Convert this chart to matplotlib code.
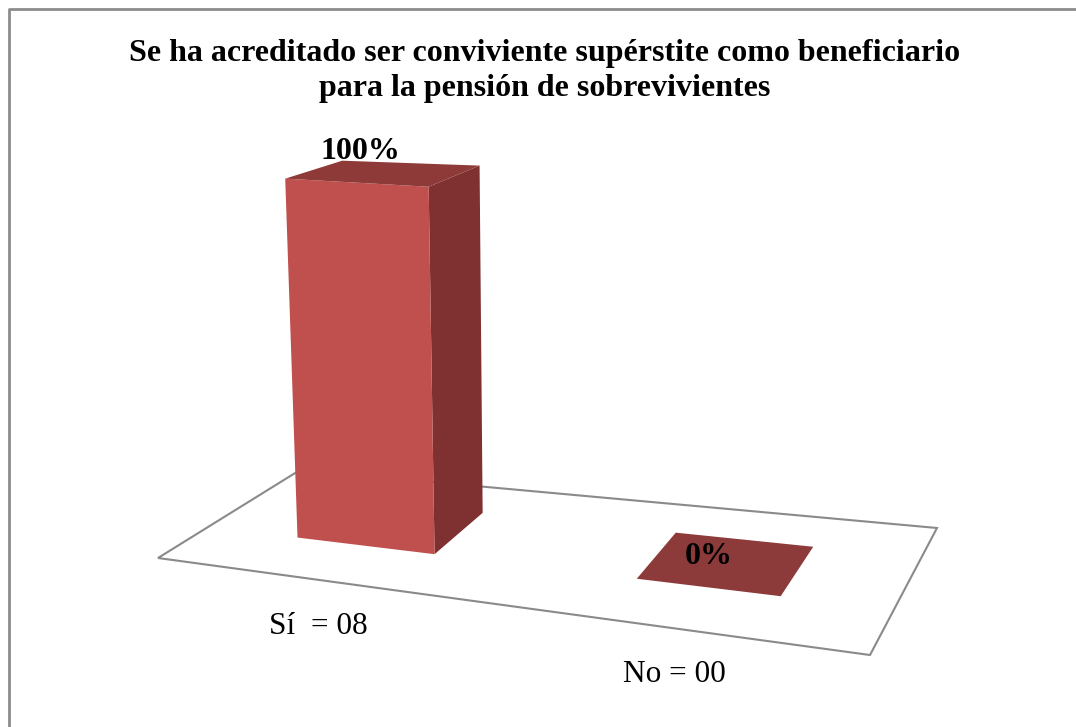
import numpy as np
import matplotlib.pyplot as plt
from matplotlib.patches import Polygon

categorias = ['Sí  = 08', 'No = 00']
porcentajes = [100, 0]
etiquetas = ['100%', '0%']
titulo = 'Se ha acreditado ser conviviente supérstite como beneficiario\npara la pensión de sobrevivientes'

plt.rcParams['font.family'] = ['Liberation Serif', 'DejaVu Serif']

# esquinas del piso en pixeles (frente-izq, frente-der, fondo-izq, fondo-der)
P00 = np.array([158, 558])
P10 = np.array([870, 655])
P01 = np.array([300, 470])
P11 = np.array([937, 528])
# vector vertical (altura 100%) aproximado: a + b*u + c*v
up_a = np.array([-18.9, -370.9])
up_b = np.array([31.9, -42.6])
up_c = np.array([6.93, 49.3])


def proj(u, v, z):
    piso = (1-u)*(1-v)*P00 + u*(1-v)*P10 + (1-u)*v*P01 + u*v*P11
    arriba = up_a + up_b*u + up_c*v
    return piso + z*arriba


fig = plt.figure(figsize=(10.76, 7.27), dpi=100)
ax = fig.add_axes([0, 0, 1, 1])
ax.set_xlim(0, 1076)
ax.set_ylim(727, 0)
ax.axis('off')

# borde del area del grafico
ax.plot([9, 9, 1076], [727, 9, 9], color='#8c8c8c', lw=2)

# piso
piso = [proj(0, 0, 0), proj(1, 0, 0), proj(1, 1, 0), proj(0, 1, 0)]
ax.add_patch(Polygon(piso, closed=True, facecolor='white', edgecolor='#8a8a8a', lw=1.5))

n = len(categorias)
ancho = 0.2
v0, v1 = 0.355, 0.765
for i, (cat, val, et) in enumerate(zip(categorias, porcentajes, etiquetas)):
    uc = (i + 0.5) / n
    u0, u1 = uc - ancho/2 - 0.02, uc + ancho/2 - 0.02
    if i == 1:
        u0, u1 = uc - ancho/2 - 0.025, uc + ancho/2 - 0.025 + 0.01
    z = val / 100
    if z > 0:
        frente = [proj(u0, v0, 0), proj(u1, v0, 0), proj(u1, v0, z), proj(u0, v0, z)]
        lado = [proj(u1, v0, 0), proj(u1, v1, 0), proj(u1, v1, z), proj(u1, v0, z)]
        tapa = [proj(u0, v0, z), proj(u1, v0, z), proj(u1, v1, z), proj(u0, v1, z)]
        ax.add_patch(Polygon(lado, closed=True, facecolor='#7f3030', edgecolor='none'))
        ax.add_patch(Polygon(frente, closed=True, facecolor='#c0504d', edgecolor='none'))
        ax.add_patch(Polygon(tapa, closed=True, facecolor='#8e3a38', edgecolor='none'))
    else:
        tapa = [proj(u0, v0, 0), proj(u1, v0, 0), proj(u1, v1, 0), proj(u0, v1, 0)]
        ax.add_patch(Polygon(tapa, closed=True, facecolor='#8c3a3a', edgecolor='none'))
    # etiqueta de datos
    top = proj((u0 + u1) / 2, v0, z)
    ax.text(top[0] + 3 * z, top[1] - 31, et, ha='center', va='center',
            fontsize=23, fontweight='bold', color='black')
    # etiqueta de categoria
    base = proj(uc, 0, 0)
    ax.text(base[0] - 18, base[1] + 44, cat, ha='center', va='center', fontsize=22.5, color='black')

ax.text(545, 71, titulo, ha='center', va='center', fontsize=23, fontweight='bold',
        linespacing=1.25)

fig.savefig('out.png', dpi=100)
